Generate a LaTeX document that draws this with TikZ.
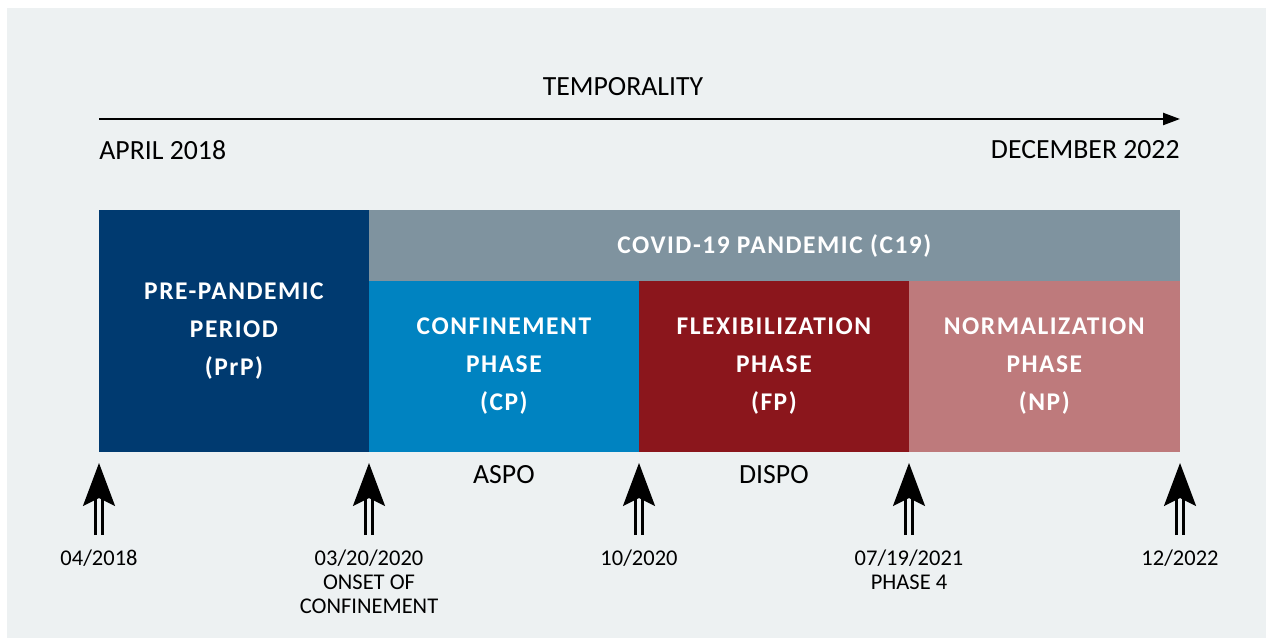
\documentclass[tikz,border=0pt]{standalone}
\usepackage{fontspec}
\setmainfont{Carlito}
\newfontfamily\phasefont[LetterSpace=6]{Carlito}
\usepackage{tikz}
\usetikzlibrary{arrows.meta,positioning}
\definecolor{panelgray}{HTML}{EDF1F2}
\definecolor{prpblue}{HTML}{003A70}
\definecolor{covidgray}{HTML}{7F939F}
\definecolor{cpblue}{HTML}{0083C1}
\definecolor{fpred}{HTML}{8B161C}
\definecolor{nprose}{HTML}{BE7A7C}
\tikzset{
  phase/.style={
    anchor=north west,
    inner sep=0pt,
    outer sep=0pt,
    text=white,
    align=center,
    font={\phasefont\bfseries\fontsize{14.5}{21.6}\selectfont}
  },
  plain/.style={
    inner sep=0pt,
    font={\fontsize{15.8}{19}\selectfont}
  },
  datelabel/.style={
    inner sep=0pt,
    anchor=north,
    align=center,
    font={\fontsize{12.8}{13.6}\selectfont}
  },
  datearrow/.style={
    double=panelgray,
    double distance=2.6pt,
    line width=1.5pt,
    -{Stealth[length=0.86cm,width=0.64cm,inset=0.16cm]}
  }
}

\begin{document}
\begin{tikzpicture}[x=0.02cm,y=-0.02cm]
  \useasboundingbox (0,0) rectangle (1266,638);
  \fill[panelgray] (7,8) rectangle (1266,638);

  % time axis
  \coordinate (start) at (99,119);
  \coordinate (end) at (1180,119);
  \draw[line width=1.3pt,-{Triangle[length=0.34cm,width=0.24cm]}] (start) -- (end);
  \node[plain] (temp) at (623,87) {TEMPORALITY};
  \node[plain,anchor=west] (apr) at (99,150) {APRIL 2018};
  \node[plain,anchor=east] (dec) at (1180,150) {DECEMBER 2022};

  % periods
  \node[phase,fill=prpblue,minimum width=5.4cm,minimum height=4.84cm] (prp) at (99,210)
    {PRE-PANDEMIC\\PERIOD\\(PrP)};
  \node[phase,fill=covidgray,minimum width=16.22cm,minimum height=1.42cm] (c19) at (prp.north east)
    {COVID-19 PANDEMIC (C19)};
  \node[phase,fill=cpblue,minimum width=5.4cm,minimum height=3.42cm] (cp) at (c19.south west)
    {CONFINEMENT\\PHASE\\(CP)};
  \node[phase,fill=fpred,minimum width=5.4cm,minimum height=3.42cm] (fp) at (cp.north east)
    {FLEXIBILIZATION\\PHASE\\(FP)};
  \node[phase,fill=nprose,minimum width=5.42cm,minimum height=3.42cm] (np) at (fp.north east)
    {NORMALIZATION\\PHASE\\(NP)};

  \node[plain,below=0.26cm of cp] (aspo) {ASPO};
  \node[plain,below=0.26cm of fp] (dispo) {DISPO};

  % dates
  \node[datelabel] (d1) at (99,550) {04/2018};
  \node[datelabel] (d2) at (369,550) {03/20/2020\\ONSET OF\\CONFINEMENT};
  \node[datelabel] (d3) at (639,550) {10/2020};
  \node[datelabel] (d4) at (909,550) {07/19/2021\\PHASE 4};
  \node[datelabel] (d5) at (1180,550) {12/2022};

  \foreach \i/\x in {1/99,2/369,3/639,4/909,5/1180}{
    \coordinate (tip\i) at (\x,463);
    \coordinate (foot\i) at (\x,535);
    \draw[datearrow] (foot\i) -- (tip\i);
  }
\end{tikzpicture}
\end{document}
